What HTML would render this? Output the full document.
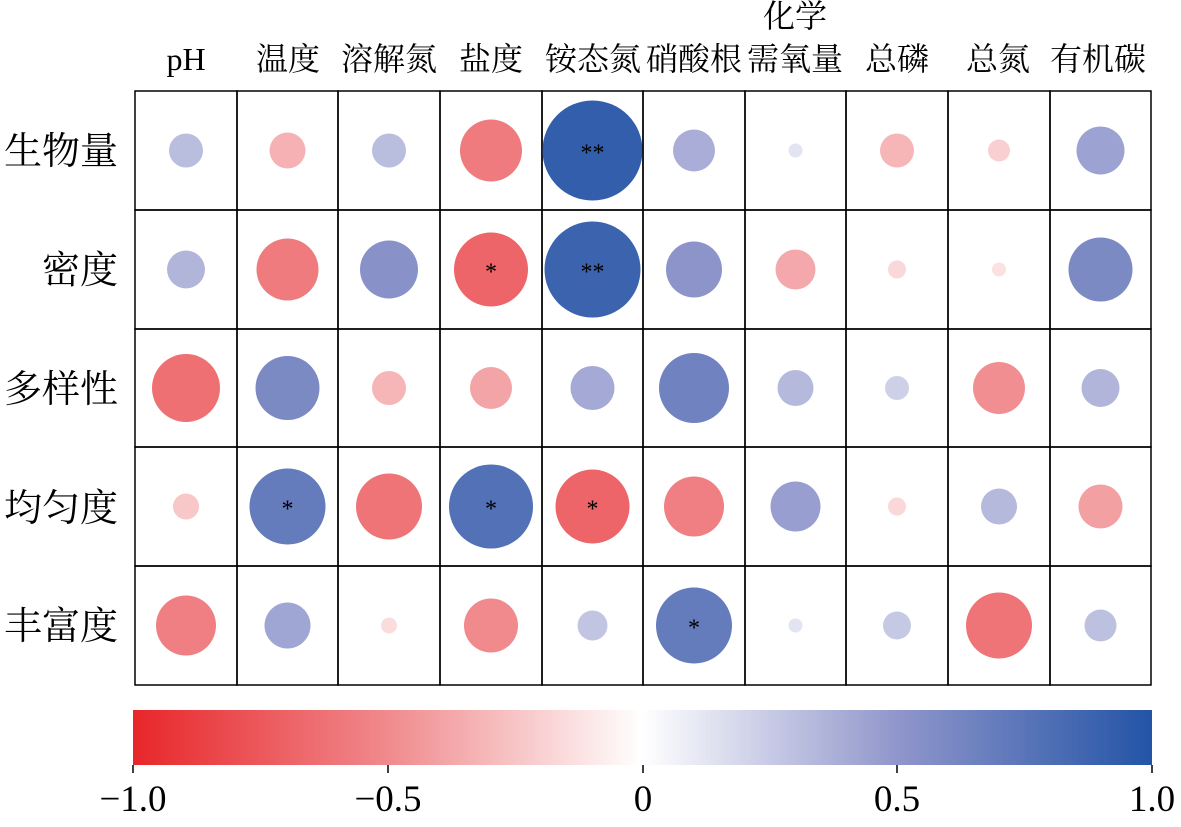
<!DOCTYPE html>
<html><head><meta charset="utf-8"><style>
html,body{margin:0;padding:0;background:#fff;}
svg text{font-family:"Liberation Serif","Noto Serif CJK SC",serif;fill:#000;}
</style></head><body>
<svg id="s" width="1181" height="822" xmlns="http://www.w3.org/2000/svg">
<defs>
<linearGradient id="g" x1="0" x2="1" y1="0" y2="0">
<stop offset="0" stop-color="#e8262a"/>
<stop offset="0.25" stop-color="#f08a8d"/>
<stop offset="0.5" stop-color="#ffffff"/>
<stop offset="0.75" stop-color="#9096cb"/>
<stop offset="1" stop-color="#2354a6"/>
</linearGradient>
</defs>
<g id="grid"></g>
<rect x="133" y="710" width="1019" height="55" fill="url(#g)"/>
<g stroke="#000" stroke-width="1.5">
<line x1="133" y1="765" x2="133" y2="773"/><line x1="388" y1="765" x2="388" y2="773"/>
<line x1="643" y1="765" x2="643" y2="773"/><line x1="897" y1="765" x2="897" y2="773"/>
<line x1="1152" y1="765" x2="1152" y2="773"/>
</g>
<g font-size="37" text-anchor="middle">
<text x="133" y="811">−1.0</text><text x="388" y="811">−0.5</text>
<text x="643" y="811">0</text><text x="897" y="811">0.5</text><text x="1152" y="811">1.0</text>
</g>
<g font-size="32" text-anchor="middle">
<text x="186" y="70">pH</text><text x="288" y="70">温度</text><text x="389" y="70">溶解氮</text>
<text x="491" y="70">盐度</text><text x="593" y="70">铵态氮</text><text x="694" y="70">硝酸根</text>
<text x="795" y="27">化学</text><text x="795" y="70">需氧量</text>
<text x="897" y="70">总磷</text><text x="998" y="70">总氮</text><text x="1098" y="70">有机碳</text>
</g>
<g font-size="38" text-anchor="end">
<text x="118" y="164">生物量</text><text x="118" y="283">密度</text><text x="118" y="402">多样性</text>
<text x="118" y="521">均匀度</text><text x="118" y="639">丰富度</text>
</g>
</svg>
<script>
var xs=[135,237,338,440,542,643,745,846,948,1050,1151],ys=[91,210,329,447,566,685];
var d=[
[[17,1],[18,-1],[17,1],[31,-1],[50,1,'**'],[21,1],[7,1],[17,-1],[11,-1],[24,1]],
[[19,1],[31,-1],[29,1],[37,-1,'*'],[48,1,'**'],[28,1],[20,-1],[9,-1],[7,-1],[32,1]],
[[34,-1],[32,1],[17,-1],[21,-1],[22,1],[35,1],[18,1],[12,1],[26,-1],[19,1]],
[[13,-1],[38,1,'*'],[33,-1],[42,1,'*'],[37,-1,'*'],[30,-1],[25,1],[9,-1],[18,1],[22,-1]],
[[30,-1],[23,1],[8,-1],[27,-1],[15,1],[38,1,'*'],[7,1],[14,1],[33,-1],[16,1]]];
function lerp(a,b,t){return a.map(function(x,i){return Math.round(x+(b[i]-x)*t)});}
function col(v,s){var a=Math.min(1,v),c;var W=[255,255,255];
if(s<0){var M=[240,138,141],E=[232,38,42];c=a<0.5?lerp(W,M,a*2):lerp(M,E,(a-0.5)*2);}
else{var M2=[144,150,203],E2=[35,84,166];c=a<0.5?lerp(W,M2,a*2):lerp(M2,E2,(a-0.5)*2);}
return 'rgb('+c+')';}
var h='';
for(var r=0;r<5;r++)for(var c=0;c<10;c++){
var x0=xs[c],x1=xs[c+1],y0=ys[r],y1=ys[r+1],cx=(x0+x1)/2,cy=(y0+y1)/2,it=d[r][c];
h+='<rect x="'+x0+'" y="'+y0+'" width="'+(x1-x0)+'" height="'+(y1-y0)+'" fill="none" stroke="#000" stroke-width="1.5"/>';
h+='<circle cx="'+cx+'" cy="'+cy+'" r="'+it[0]+'" fill="'+col(it[0]/54,it[1])+'"/>';
if(it[2])h+='<text x="'+cx+'" y="'+(cy+10)+'" font-size="24" text-anchor="middle">'+it[2]+'</text>';
}
document.getElementById('grid').innerHTML=h;
</script>
</body></html>
